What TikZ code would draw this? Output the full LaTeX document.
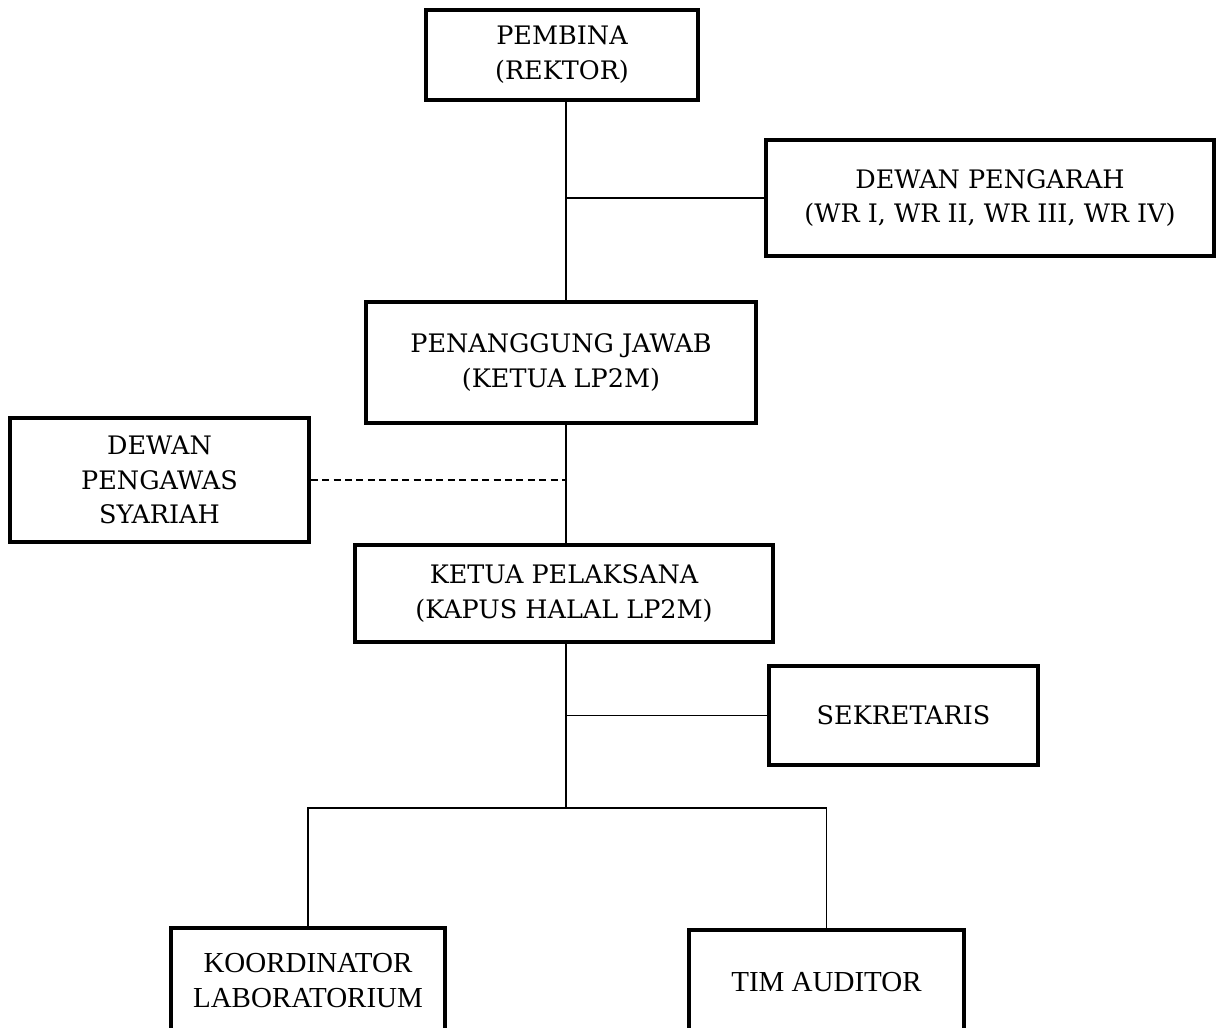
\documentclass[tikz,border=0pt]{standalone}
\usepackage{fontspec}
\setmainfont{DejaVu Serif}
\newfontfamily\condserif{Liberation Serif}
\usepackage{tikz}
\usetikzlibrary{positioning}

\tikzset{
  unit/.style={draw, line width=2pt, rectangle, align=center, inner sep=0pt,
    font=\fontsize{14.5}{19.8}\selectfont},
  lowunit/.style={unit, font=\condserif\fontsize{16.5}{19.8}\selectfont},
  link/.style={line width=0.6pt},
}

\begin{document}
\begin{tikzpicture}
  \useasboundingbox (0,0) rectangle (24.34,-20.54);
  \node [unit, minimum width=5.44cm, minimum height=1.80cm] (pembina) at (11.24,-1.10) {PEMBINA\\(REKTOR)};
  \node [unit, minimum width=8.96cm, minimum height=2.32cm] (pengarah) at (19.80,-3.96) {DEWAN PENGARAH\\(WR I, WR II, WR III, WR IV)};
  \node [unit, minimum width=7.80cm, minimum height=2.42cm] (pj) at (11.22,-7.25) {PENANGGUNG JAWAB\\(KETUA LP2M)};
  \node [unit, minimum width=5.98cm, minimum height=2.48cm] (pengawas) at (3.19,-9.60) {DEWAN\\PENGAWAS\\SYARIAH};
  \node [unit, minimum width=8.36cm, minimum height=1.94cm] (ketua) at (11.28,-11.87) {KETUA PELAKSANA\\(KAPUS HALAL LP2M)};
  \node [unit, minimum width=5.38cm, minimum height=1.98cm] (sekretaris) at (18.07,-14.31) {SEKRETARIS};
  \node [lowunit, minimum width=5.48cm, minimum height=2.10cm] (koord) at (6.16,-19.61) {KOORDINATOR\\LABORATORIUM};
  \node [lowunit, minimum width=5.50cm, minimum height=2.10cm] (tim) at (16.53,-19.65) {TIM AUDITOR};

  \coordinate (spine) at (11.32,0);
  \coordinate (fork) at (11.32,-16.16);
  \draw [link] (pembina.south -| spine) -- (pj.north -| spine);
  \draw [link] (pengarah.west) -- (pengarah.west -| spine);
  \draw [link] (pj.south -| spine) -- (ketua.north -| spine);
  \draw [link, dashed, dash pattern=on 4pt off 2.5pt] (pengawas.east) -- (pengawas.east -| spine);
  \draw [link] (ketua.south -| spine) -- (fork);
  \draw [link] (sekretaris.west) -- (sekretaris.west -| spine);
  \draw [link] (koord.north) -- (koord.north |- fork) -- (tim.north |- fork) -- (tim.north);
\end{tikzpicture}
\end{document}
